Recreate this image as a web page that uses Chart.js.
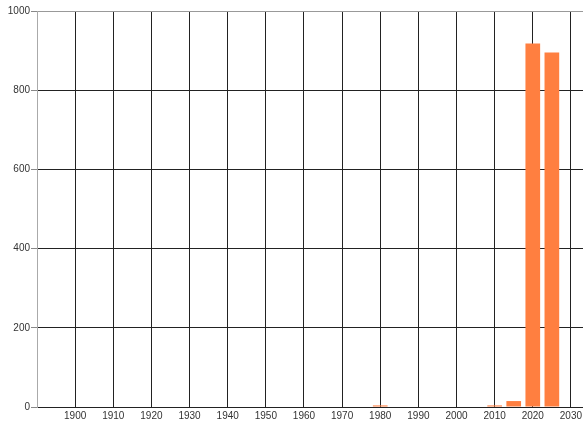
<!DOCTYPE html>
<html>
<head>
<meta charset="utf-8">
<script src="https://cdn.jsdelivr.net/npm/chart.js@4.4.1/dist/chart.umd.min.js"></script>
<style>
  html, body { margin: 0; padding: 0; background: #fff; overflow: hidden; }
  #wrap { width: 590px; height: 424px; }
</style>
</head>
<body>
<div id="wrap"><canvas id="chartAnios"></canvas></div>
<script>
const years = [1980, 2010, 2015, 2020, 2025];
const counts = [4, 4, 15, 918, 895];
const xMin = 1890, xMax = 2035, xStep = 10;
const yMax = 1000, yStep = 200;

const ctx = document.getElementById('chartAnios');

new Chart(ctx, {
  type: 'bar',
  data: {
    datasets: [{
      data: years.map((y, i) => ({ x: y, y: counts[i] })),
      backgroundColor: '#ff7f40',
      borderWidth: 0,
      barPercentage: 0.77,
      categoryPercentage: 1
    }]
  },
  options: {
    responsive: true,
    maintainAspectRatio: false,
    animation: false,
    layout: { padding: { top: 11, right: 0, left: 0, bottom: 0 } },
    plugins: { legend: { display: false }, tooltip: { enabled: false } },
    scales: {
      x: {
        type: 'linear',
        min: xMin,
        max: xMax,
        offset: false,
        grid: {
          color: c => c.tick && c.tick.value === xMin ? '#aaa' : '#222',
          lineWidth: 1,
          drawTicks: false,
          offset: false
        },
        border: { color: '#222' },
        ticks: {
          stepSize: xStep,
          autoSkip: false,
          maxRotation: 0,
          padding: 3,
          color: '#333',
          font: { family: 'Liberation Sans', size: 10 },
          callback: v => (v < 1900 || v > 2030) ? '' : String(Math.round(v))
        },
        afterBuildTicks: s => {
          s.ticks = [];
          for (let v = xMin; v <= 2030; v += xStep) s.ticks.push({ value: v });
        },
        afterFit: s => { s.height = 17; }
      },
      y: {
        min: 0,
        max: yMax,
        grid: {
          color: c => c.tick && c.tick.value === yMax ? '#999' : '#222',
          tickColor: '#888',
          lineWidth: 1,
          tickLength: 6
        },
        border: { color: '#aaa' },
        ticks: {
          stepSize: yStep,
          padding: 1,
          color: '#333',
          font: { family: 'Liberation Sans', size: 10 },
          callback: v => String(v)
        },
        afterFit: s => { s.width = 37; }
      }
    }
  }
});
</script>
</body>
</html>
